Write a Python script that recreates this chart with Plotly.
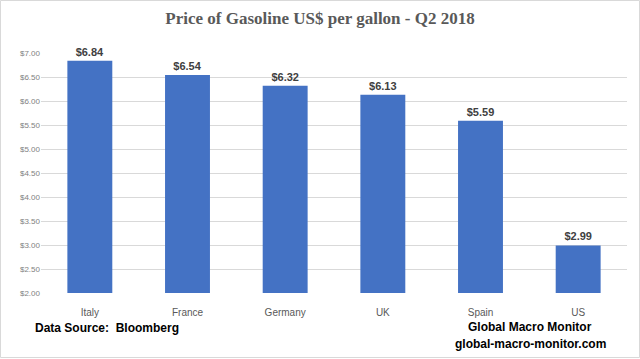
import plotly.graph_objects as go

countries = ["Italy", "France", "Germany", "UK", "Spain", "US"]
prices = [6.84, 6.54, 6.32, 6.13, 5.59, 2.99]
tick_vals = [2.0, 2.5, 3.0, 3.5, 4.0, 4.5, 5.0, 5.5, 6.0, 6.5, 7.0]
tick_text = ["$%.2f" % v for v in tick_vals]

W, H = 640, 359
ml, mr, mt, mb = 41, 13, 53, 66
pw = W - ml - mr
ph = H - mt - mb

def px_x(x):
    return (x - ml) / pw

def px_y(y):
    return (H - mb - y) / ph

fig = go.Figure(go.Bar(
    x=countries, y=[p - 2.0 for p in prices], base=2.0,
    marker=dict(color="#4472C4", line=dict(width=0)),
    width=0.46,
    text=["$%.2f" % p for p in prices], textposition="outside",
    textfont=dict(family="Liberation Sans", size=11, color="#404040"),
    texttemplate="<b>%{text}</b>", cliponaxis=False,
    hoverinfo="skip",
))

fig.update_layout(
    width=W, height=H,
    margin=dict(l=ml, r=mr, t=mt, b=mb),
    paper_bgcolor="white", plot_bgcolor="white",
    showlegend=False,
    title=dict(text="<b>Price of Gasoline US$ per gallon - Q2 2018</b>",
               x=0.5, xanchor="center", y=1 - 18 / H, yanchor="middle",
               font=dict(family="Liberation Serif", size=17, color="#595959")),
    xaxis=dict(showgrid=False, showline=False, ticks="outside", ticklen=10,
               tickcolor="rgba(0,0,0,0)",
               tickfont=dict(family="Liberation Sans", size=10, color="#595959")),
    yaxis=dict(range=[2.0, 7.0], tickvals=tick_vals, ticktext=tick_text,
               showgrid=True, gridcolor="#D9D9D9", gridwidth=1,
               zeroline=False, showline=False, ticks="", ticklen=0,
               tickfont=dict(family="Liberation Sans", size=8, color="#7F7F7F")),
    bargap=0.54,
    annotations=[
        dict(text="<b>Data Source:  Bloomberg</b>", xref="paper", yref="paper",
             x=px_x(33), y=px_y(328), xanchor="left", yanchor="middle", showarrow=False,
             font=dict(family="Liberation Sans", size=12, color="black")),
        dict(text="<b>Global Macro Monitor</b>", xref="paper", yref="paper",
             x=px_x(530), y=px_y(327), xanchor="center", yanchor="middle", showarrow=False,
             font=dict(family="Liberation Sans", size=12, color="black")),
        dict(text="<b>global-macro-monitor.com</b>", xref="paper", yref="paper",
             x=px_x(530), y=px_y(344), xanchor="center", yanchor="middle", showarrow=False,
             font=dict(family="Liberation Sans", size=12, color="black")),
    ],
    shapes=[dict(type="rect", xref="paper", yref="paper",
                 x0=px_x(0.5), x1=px_x(639.5), y0=px_y(357.5), y1=px_y(0.5),
                 line=dict(color="#D9D9D9", width=1), fillcolor="rgba(0,0,0,0)", layer="below")],
)
fig.update_yaxes(ticksuffix="  ")

fig.write_html("out.html", config={"displayModeBar": False},
               post_script="document.body.style.margin='0';document.body.style.padding='0';")
